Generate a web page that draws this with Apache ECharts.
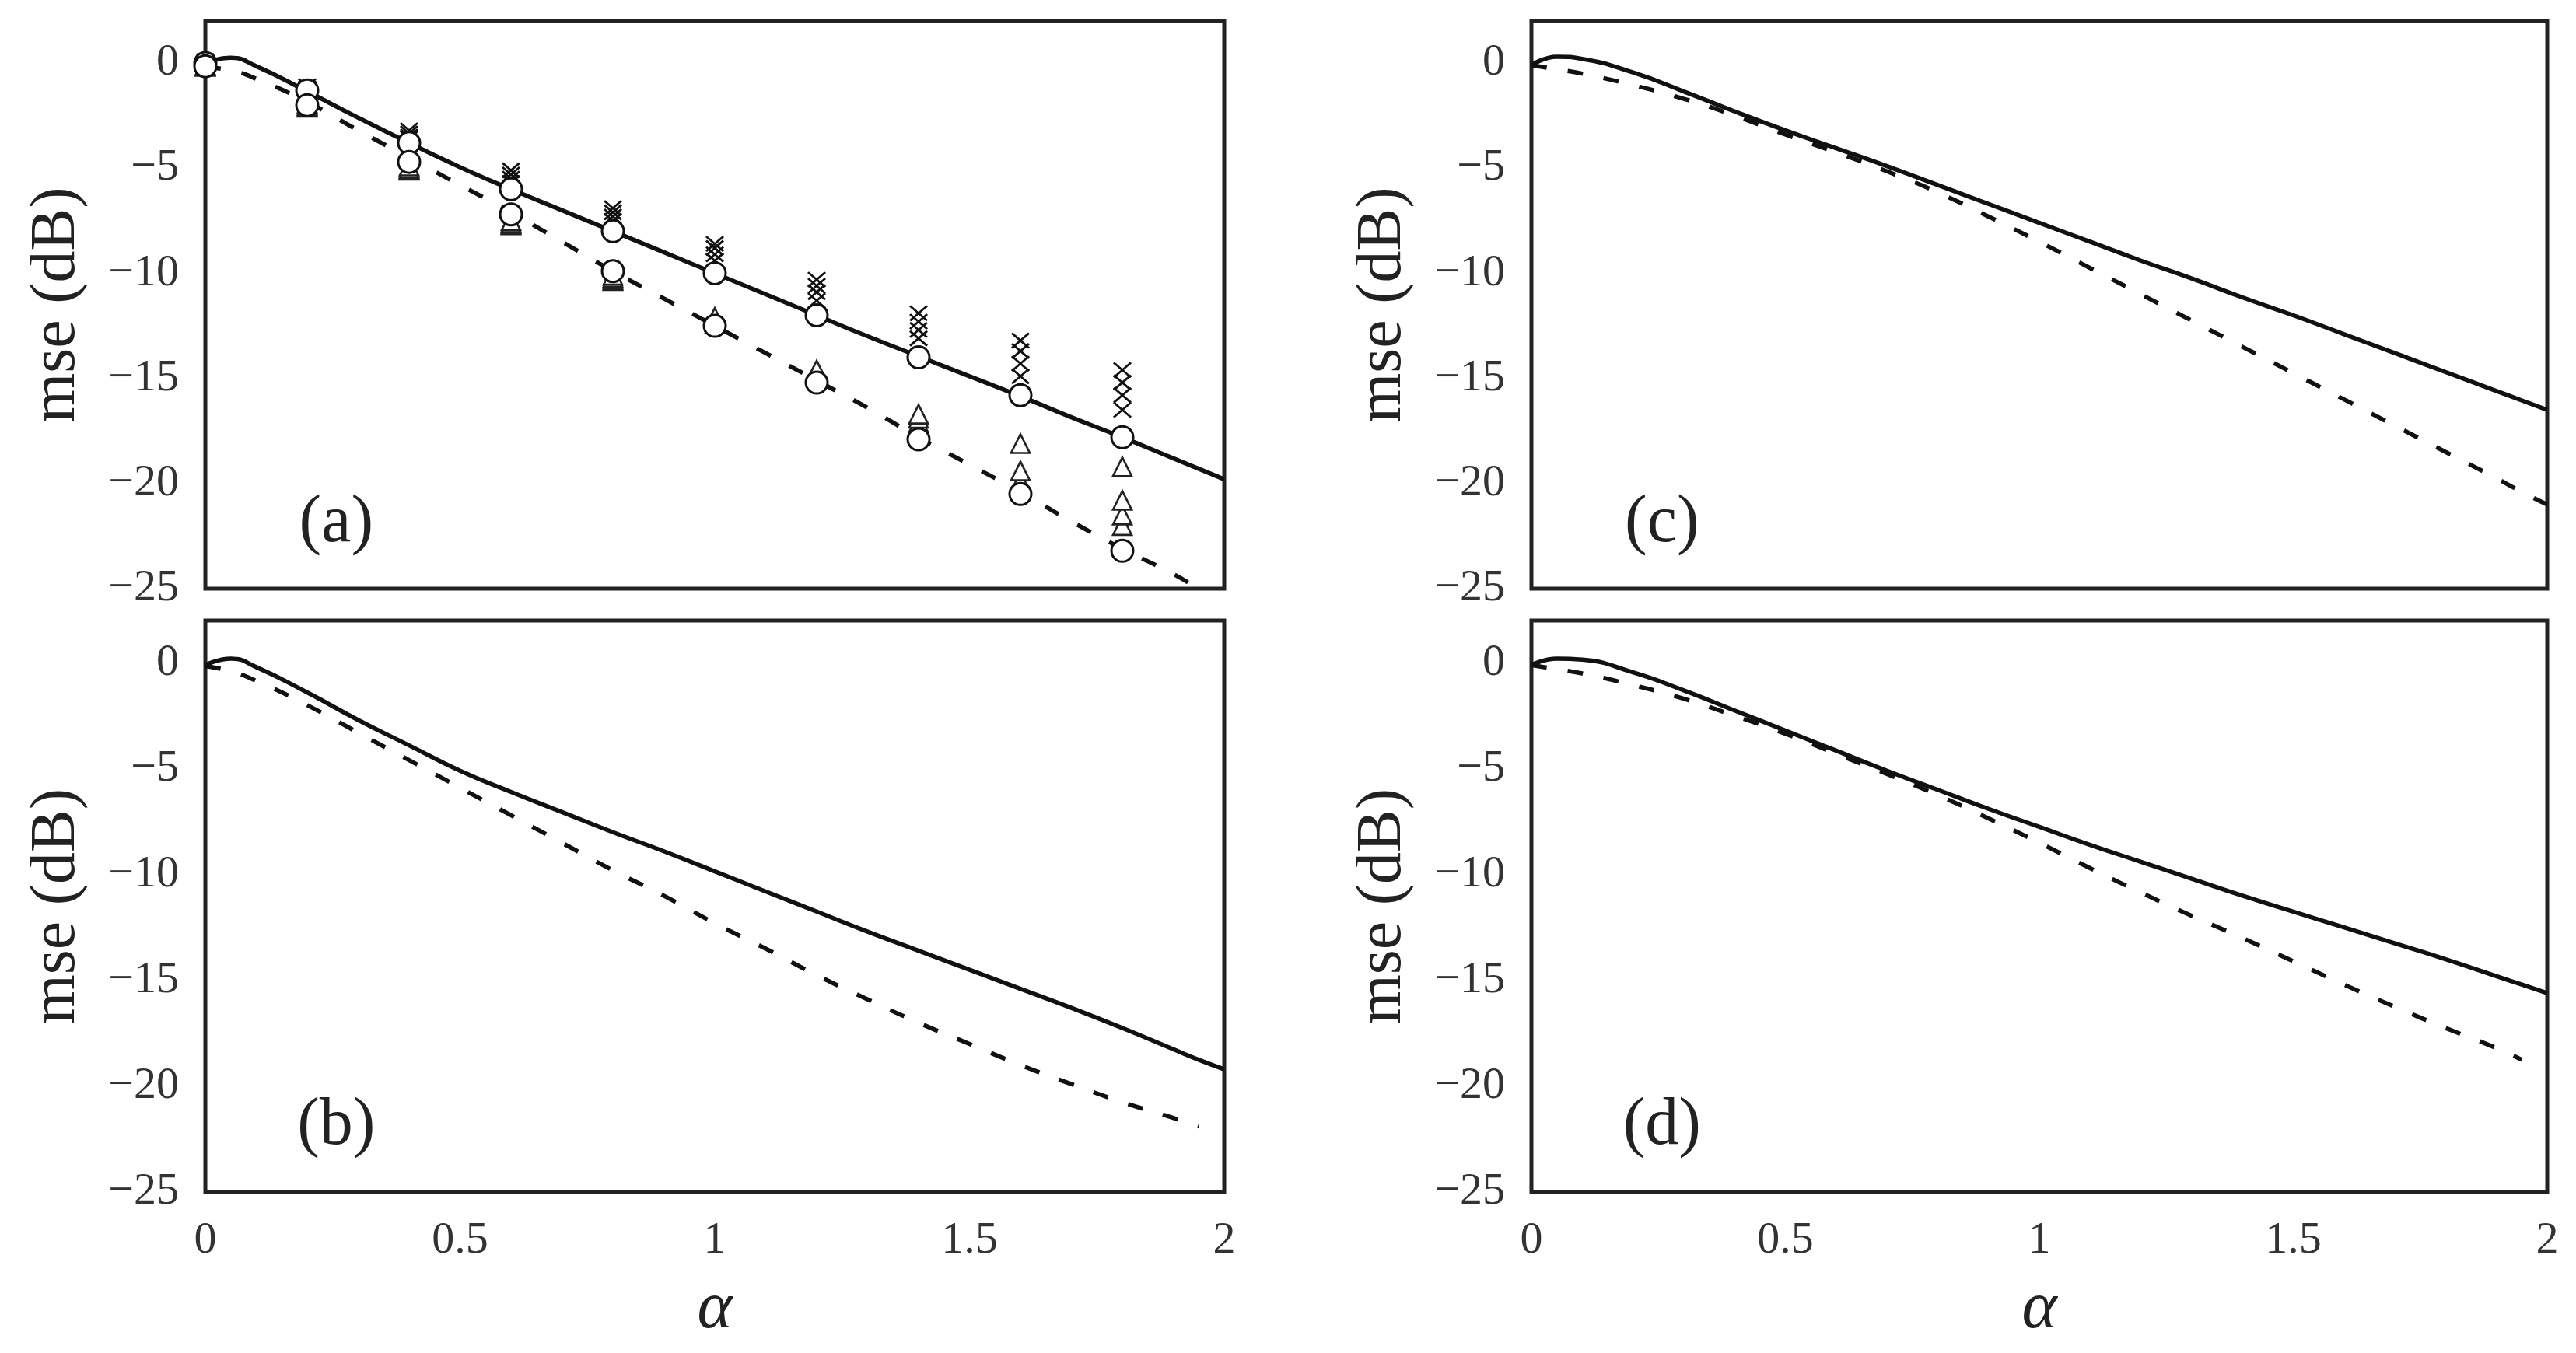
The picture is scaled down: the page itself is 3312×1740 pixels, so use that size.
<!DOCTYPE html>
<html><head><meta charset="utf-8">
<script src="https://cdn.jsdelivr.net/npm/echarts/dist/echarts.min.js"></script>
<style>html,body{margin:0;padding:0;background:#fff}#c{width:3312px;height:1740px}</style>
</head><body><div id="c"></div>
<script>
// ---------- data ----------
const alphaGrid = [0,0.05,0.1,0.2,0.3,0.4,0.5,0.6,0.7,0.8,0.9,1.0,1.1,1.2,1.3,1.4,1.5,1.6,1.7,1.8,1.9,1.95,2.0];
const solidA  = [0,0.25,-0.15,-1.35,-2.6,-3.8,-4.95,-6.0,-7.0,-8.0,-9.0,-10.0,-11.0,-12.0,-13.0,-13.95,-14.9,-15.85,-16.85,-17.8,-18.8,-19.3,-19.8];
const dashedA = [-0.2,-0.35,-0.75,-1.85,-3.2,-4.5,-5.8,-7.1,-8.5,-9.9,-11.2,-12.5,-13.8,-15.1,-16.4,-17.8,-19.1,-20.4,-21.8,-23.1,-24.3,-25.0,-25.6];
const solidB  = [-0.1,0.2,-0.2,-1.4,-2.7,-3.9,-5.1,-6.1,-7.05,-8.0,-8.9,-9.85,-10.8,-11.75,-12.7,-13.6,-14.5,-15.4,-16.3,-17.25,-18.25,-18.75,-19.2];
const dashedB = [-0.15,-0.4,-0.85,-2.0,-3.3,-4.6,-5.9,-7.2,-8.5,-9.8,-11.0,-12.3,-13.5,-14.75,-15.9,-17.0,-18.0,-19.0,-19.9,-20.75,-21.5,-21.9,null];
const solidC  = [-0.1,0.3,0.2,-0.45,-1.35,-2.3,-3.2,-4.05,-4.9,-5.8,-6.7,-7.6,-8.5,-9.4,-10.25,-11.15,-12.0,-12.9,-13.8,-14.7,-15.6,-16.05,-16.5];
const dashedC = [-0.1,-0.3,-0.5,-1.05,-1.7,-2.5,-3.4,-4.25,-5.15,-6.15,-7.3,-8.5,-9.75,-11.0,-12.25,-13.5,-14.75,-16.0,-17.25,-18.5,-19.75,-20.4,-21.0];
const solidD  = [-0.1,0.2,0.15,-0.45,-1.3,-2.25,-3.2,-4.15,-5.1,-6.0,-6.9,-7.75,-8.6,-9.4,-10.2,-11.0,-11.75,-12.5,-13.25,-14.0,-14.8,-15.2,-15.6];
const dashedD = [-0.1,-0.3,-0.5,-1.05,-1.7,-2.5,-3.35,-4.3,-5.25,-6.25,-7.35,-8.5,-9.7,-10.85,-11.95,-13.0,-14.1,-15.2,-16.25,-17.25,-18.2,-18.75,null];

// simulation markers, panel (a)
const alphaPts   = [0,0.2,0.4,0.6,0.8,1.0,1.2,1.4,1.6,1.8];
const circSolidA = [0,-1.3,-3.8,-6.0,-8.0,-10.0,-12.0,-14.0,-15.8,-17.8];
const circDashA  = [-0.15,-2.0,-4.7,-7.2,-9.9,-12.5,-15.2,-17.9,-20.5,-23.2];
const cross1 = [0.1,-1.1,-3.2,-5.1,-6.9,-8.6,-10.3,-11.9,-13.2,-14.6];
const cross2 = [0.05,-1.2,-3.35,-5.3,-7.1,-8.8,-10.6,-12.3,-13.7,-15.2];
const cross3 = [0,-1.25,-3.5,-5.5,-7.3,-9.1,-10.9,-12.7,-14.3,-15.8];
const cross4 = [0,-1.3,-3.6,-5.7,-7.5,-9.4,-11.3,-13.1,-14.9,-16.5];
const tri1 = [-0.1,-1.9,-4.9,-7.5,-10.1,-12.1,-14.6,-16.7,-18.1,-19.2];
const tri2 = [-0.1,-2.0,-5.0,-7.6,-10.2,-12.2,-14.7,-16.9,-19.4,-20.8];
const tri3 = [-0.15,-2.05,-5.05,-7.65,-10.3,-12.3,-14.8,-17.1,-19.9,-21.5];
const tri4 = [-0.15,-2.1,-5.1,-7.7,-10.35,-12.4,-14.9,-17.3,-20.1,-22.0];

const panelNames = ['(a)','(b)','(c)','(d)'];
const yTitle = 'mse (dB)';
const xTitle = 'α';

// ---------- chart ----------
const FONT = 'Liberation Serif';
const grids = [
  {left:264, top:27,  width:1310, height:730},
  {left:264, top:798, width:1310, height:735},
  {left:1969,top:27,  width:1306, height:730},
  {left:1969,top:798, width:1306, height:735}
].map(g => Object.assign(g, {show:true, borderColor:'#222', borderWidth:5, backgroundColor:'#fff'}));

const isBottom = [false,true,false,true];
const xAxes = grids.map((g,i)=>({
  type:'value', gridIndex:i, min:0, max:2, interval:0.5,
  axisLine:{show:false}, axisTick:{show:false}, splitLine:{show:false},
  axisLabel:{show:isBottom[i], fontFamily:FONT, fontSize:58, color:'#333', margin:34},
  name: isBottom[i] ? xTitle : '', nameLocation:'middle', nameGap:108,
  nameTextStyle:{fontFamily:FONT, fontStyle:'italic', fontSize:86, color:'#222', lineHeight:86}
}));
const yAxes = grids.map((g,i)=>({
  type:'value', gridIndex:i, min:-25, max:2, interval:5,
  axisLine:{show:false}, axisTick:{show:false}, splitLine:{show:false},
  axisLabel:{fontFamily:FONT, fontSize:58, color:'#333', margin:34, showMaxLabel:false,
    formatter:v=>String(v).replace('-','\u2212')},
  name: yTitle, nameLocation:'middle', nameGap:150,
  nameTextStyle:{fontFamily:FONT, fontSize:82, color:'#222', lineHeight:82}
}));

function curve(i, vals, dashed){
  const data = [];
  alphaGrid.forEach((a,k)=>{ if(vals[k]!=null) data.push([a, vals[k]]); });
  return {type:'line', xAxisIndex:i, yAxisIndex:i, data, showSymbol:false, smooth:0.5,
    clip:true, z:2, silent:true,
    lineStyle:{color:'#111', width:5.5, type: dashed ? [20,27] : 'solid', cap:'butt'}};
}
function pts(vals, symbol, size, style, z){
  return {type:'scatter', xAxisIndex:0, yAxisIndex:0, data: alphaPts.map((a,k)=>[a, vals[k]]),
    symbol, symbolSize:size, itemStyle:Object.assign({opacity:1}, style), z, silent:true, clip:true};
}
const crossSym = 'path://M0,0L10,10M10,0L0,10';
const crossStyle = {color:'rgba(0,0,0,0)', borderColor:'#111', borderWidth:2.8};
const triStyle = {color:'#fff', borderColor:'#222', borderWidth:2.6};
const circStyle = {color:'#fff', borderColor:'#111', borderWidth:3};

const series = [
  curve(0, solidA, false), curve(0, dashedA, true),
  curve(1, solidB, false), curve(1, dashedB, true),
  curve(2, solidC, false), curve(2, dashedC, true),
  curve(3, solidD, false), curve(3, dashedD, true),
  pts(tri4, 'triangle', 24, triStyle, 4), pts(tri3, 'triangle', 24, triStyle, 4),
  pts(tri2, 'triangle', 24, triStyle, 4), pts(tri1, 'triangle', 24, triStyle, 4),
  pts(cross4, crossSym, [22,19], crossStyle, 4), pts(cross3, crossSym, [22,19], crossStyle, 4),
  pts(cross2, crossSym, [22,19], crossStyle, 4), pts(cross1, crossSym, [22,19], crossStyle, 4),
  pts(circSolidA, 'circle', 28, circStyle, 5), pts(circDashA, 'circle', 28, circStyle, 5)
];

const chart = echarts.init(document.getElementById('c'), null, {renderer:'canvas'});
chart.setOption({animation:false, backgroundColor:'#fff', grid:grids, xAxis:xAxes, yAxis:yAxes, series});

// panel tags placed in data space of each grid
const tagPos = [0.257, -21.9];
chart.setOption({graphic: panelNames.map((t,i)=>{
  const p = chart.convertToPixel({gridIndex:i}, tagPos);
  return {type:'text', x:p[0], y:p[1], z:10, style:{text:t, fontFamily:FONT, fontSize:86,
    fill:'#222', align:'center', verticalAlign:'middle'}};
})});
</script></body></html>
